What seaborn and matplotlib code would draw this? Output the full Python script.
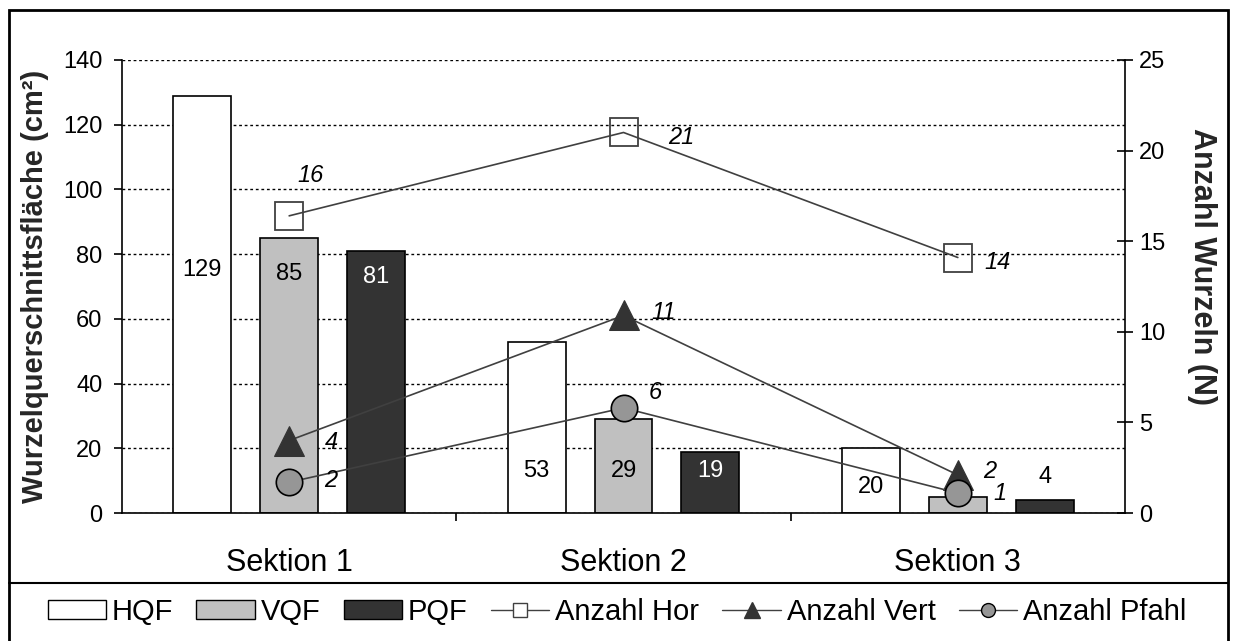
import numpy as np
import pandas as pd
import seaborn as sns
import matplotlib.pyplot as plt
from matplotlib.patches import Patch, Rectangle
from matplotlib.lines import Line2D
from matplotlib.font_manager import FontProperties

# Chart data
sections = ['Sektion 1', 'Sektion 2', 'Sektion 3']
series_names = ['HQF', 'VQF', 'PQF']
hqf = [129, 53, 20]
vqf = [85, 29, 5]
pqf = [81, 19, 4]
anzahl_hor = [16.4, 21.0, 14.1]
anzahl_vert = [4.0, 10.9, 2.1]
anzahl_pfahl = [1.7, 5.8, 1.1]

# Colours and styling
bar_colors = {'HQF': '#FFFFFF', 'VQF': '#C0C0C0', 'PQF': '#333333'}
line_color = '#404040'

# Where the value labels of the bars sit (left axis units), per series and section
bar_label_y = {'HQF': [75, 13, 8], 'VQF': [74, 13, 6], 'PQF': [73, 13, 11]}
# pixel offsets of the italic point labels
hor_offsets = [(21, 40), (58, -5), (40, -5)]
vert_offsets = [(42, -2), (40, 3), (32, 3)]
pfahl_offsets = [(42, 2), (32, 15), (42, 0)]

sns.set_theme(style='ticks')
plt.rcParams['font.family'] = ['Liberation Sans', 'DejaVu Sans']
plt.rcParams['axes.edgecolor'] = 'black'
plt.rcParams['xtick.color'] = 'black'
plt.rcParams['ytick.color'] = 'black'
plt.rcParams['text.color'] = 'black'

bars_df = pd.DataFrame({
    'section': sections * 3,
    'serie': [s for s in series_names for _ in sections],
    'value': hqf + vqf + pqf,
})

fig = plt.figure(figsize=(12.34, 6.41), dpi=100)
ax = fig.add_axes([122 / 1234, 1 - 513 / 641, (1125 - 122) / 1234, (513 - 60) / 641])

sns.barplot(data=bars_df, x='section', y='value', hue='serie', hue_order=series_names,
            palette=bar_colors, saturation=1, width=0.78, gap=0.333,
            edgecolor='black', linewidth=1.2, legend=False, ax=ax)

# value labels of the bars
for serie, container in zip(series_names, ax.containers):
    for i, (patch, val) in enumerate(zip(container.patches, bars_df.loc[bars_df['serie'] == serie, 'value'])):
        xc = patch.get_x() + patch.get_width() / 2
        ypos = bar_label_y[serie][i]
        col = 'white' if (serie == 'PQF' and ypos < val) else 'black'
        ax.text(xc, ypos, f'{val:.0f}', ha='center', va='center', fontsize=17, color=col, zorder=3)

ax.set_ylim(0, 140)
ax.set_xlim(-0.5, 2.5)
ax.set_yticks(np.arange(0, 141, 20))
ax.yaxis.grid(True, linestyle=(0, (2, 2)), color='black', linewidth=1)
ax.set_axisbelow(True)
ax.set_xlabel('')
ax.set_ylabel('Wurzelquerschnittsfläche (cm²)', fontsize=21, fontweight='bold', labelpad=10)
for side in ['top', 'right']:
    ax.spines[side].set_visible(False)
ax.spines['left'].set_linewidth(1.2)
ax.spines['bottom'].set_linewidth(1.2)
ax.tick_params(axis='y', direction='out', length=6, width=1.2, labelsize=17, pad=8)
ax.tick_params(axis='x', which='major', length=0, labelsize=22, pad=25)
ax.set_xticks([0.5, 1.5], minor=True)
ax.tick_params(axis='x', which='minor', direction='out', length=6, width=1.2)

# secondary axis with the counts
ax2 = ax.twinx()
sns.lineplot(x=sections, y=anzahl_hor, ax=ax2, color=line_color, linewidth=1.2, marker='s',
             markersize=20, markerfacecolor='none', markeredgecolor=line_color, markeredgewidth=1.3)
sns.lineplot(x=sections, y=anzahl_vert, ax=ax2, color=line_color, linewidth=1.2, marker='^',
             markersize=21, markerfacecolor='#333333', markeredgecolor='#333333')
sns.lineplot(x=sections, y=anzahl_pfahl, ax=ax2, color=line_color, linewidth=1.2, marker='o',
             markersize=19, markerfacecolor='#969696', markeredgecolor='black', markeredgewidth=1.2)

for line, vals, offs in zip(ax2.lines, [anzahl_hor, anzahl_vert, anzahl_pfahl],
                            [hor_offsets, vert_offsets, pfahl_offsets]):
    for (xp, yp), v, off in zip(line.get_xydata(), vals, offs):
        ax2.annotate(f'{v:.0f}', (xp, yp), xytext=off, textcoords='offset pixels',
                     ha='center', va='center', fontsize=17, style='italic')

ax2.set_ylim(0, 25)
ax2.set_yticks(np.arange(0, 26, 5))
ax2.set_ylabel('Anzahl Wurzeln (N)', fontsize=22, fontweight='bold', rotation=270,
               va='center', ha='center')
ax2.yaxis.set_label_coords(1.077, 0.545)
for side in ['top', 'left', 'bottom']:
    ax2.spines[side].set_visible(False)
ax2.spines['right'].set_linewidth(1.2)
ax2.tick_params(axis='y', direction='inout', length=12, width=1.2, labelsize=17, pad=4)

# outer frame and legend box line
fig.add_artist(Rectangle((9 / 1234, -0.05), (1228 - 9) / 1234, 1.05 - 10 / 641,
                         transform=fig.transFigure, fill=False, edgecolor='black', linewidth=2))
fig.add_artist(Line2D([9 / 1234, 1228 / 1234], [1 - 583 / 641] * 2, transform=fig.transFigure,
                      color='black', linewidth=1.5))

handles = [Patch(facecolor=bar_colors[s], edgecolor='black', linewidth=1) for s in series_names]
handles += [
    Line2D([], [], color=line_color, lw=1, marker='s', ms=10, mfc='white', mec=line_color),
    Line2D([], [], color=line_color, lw=1, marker='^', ms=11, mfc='#333333', mec='#333333'),
    Line2D([], [], color=line_color, lw=1, marker='o', ms=10, mfc='#969696', mec='black'),
]
labels = series_names + ['Anzahl Hor', 'Anzahl Vert', 'Anzahl Pfahl']
fig.legend(handles, labels, loc='center', bbox_to_anchor=(0.5, 1 - 612 / 641), ncol=6,
           frameon=False, prop=FontProperties(family=['Liberation Sans'], size=21),
           handlelength=2.0, handleheight=0.6, handletextpad=0.2, columnspacing=0.8)

fig.savefig('out.png', dpi=100)
